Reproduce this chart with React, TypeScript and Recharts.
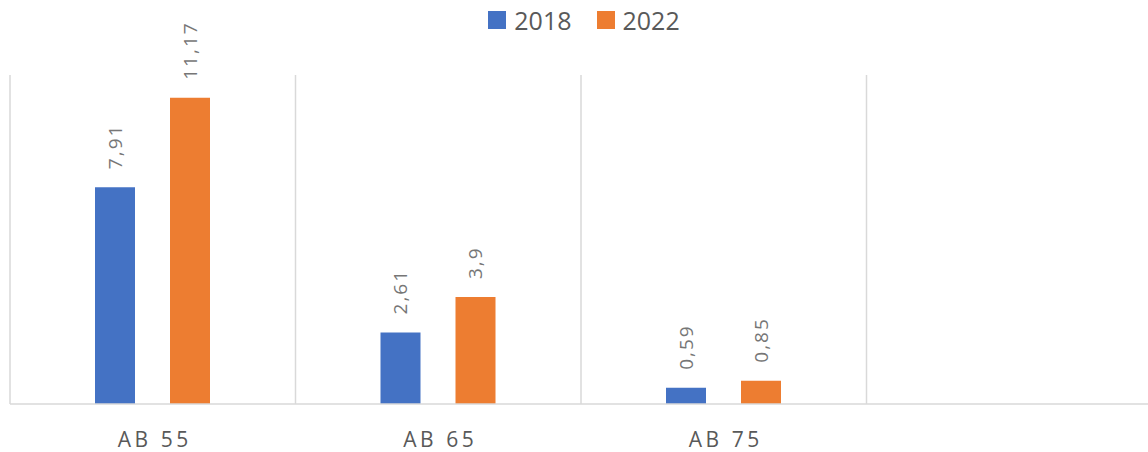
import React from 'react';
import { BarChart, Bar, XAxis, YAxis, CartesianGrid, Legend, LabelList } from 'recharts';

const categories = ['AB 55', 'AB 65', 'AB 75', ''];
const values2018 = [7.91, 2.61, 0.59, null];
const values2022 = [11.17, 3.9, 0.85, null];
const seriesNames = ['2018', '2022'];
const seriesColors = ['#4472C4', '#ED7D31'];
const yTicks = [0, 12];

const data = categories.map((name, i) => ({
  name,
  [seriesNames[0]]: values2018[i],
  [seriesNames[1]]: values2022[i],
}));

const fmt = (v: number) => String(v).replace('.', ',');

const BarLabel = (props: any) => {
  const { x, y, width, value } = props;
  if (value == null) return null;
  const cx = x + width / 2 + 7;
  const cy = y - 18;
  return (
    <text
      x={cx}
      y={cy}
      transform={`rotate(-90 ${cx} ${cy})`}
      textAnchor="start"
      fontSize={19}
      letterSpacing={2}
      fill="#767676"
      fontFamily="'Open Sans', sans-serif"
    >
      {fmt(value)}
    </text>
  );
};

const CategoryTick = (props: any) => {
  const { x, y, payload } = props;
  return (
    <text
      x={x + 2}
      y={y}
      dy={35}
      textAnchor="middle"
      fontSize={21}
      letterSpacing={3.5}
      fill="#595959"
      fontFamily="'Open Sans', sans-serif"
    >
      {payload.value}
    </text>
  );
};

const LegendContent = (props: any) => {
  const { payload } = props;
  return (
    <div
      style={{
        height: 40,
        display: 'flex',
        justifyContent: 'center',
        alignItems: 'center',
        paddingLeft: 20,
        fontFamily: "'Open Sans', sans-serif",
      }}
    >
      {(payload || []).map((p: any, i: number) => (
        <div key={i} style={{ display: 'flex', alignItems: 'center', marginRight: i === 0 ? 25 : 0 }}>
          <span style={{ width: 18, height: 18, background: p.color, marginRight: 8, display: 'inline-block' }} />
          <span style={{ fontSize: 25, color: '#595959', lineHeight: '25px' }}>{p.value}</span>
        </div>
      ))}
    </div>
  );
};

export default function App() {
  return (
    <div style={{ position: 'absolute', left: 0, top: 0, width: 1148, height: 452, overflow: 'hidden', background: '#fff' }}>
      <BarChart
        width={1160}
        height={452}
        data={data}
        margin={{ top: 35, right: 8, bottom: 18, left: 10 }}
        barGap={35}
        barSize={40}
      >
        <CartesianGrid
          horizontal={false}
          stroke="#d9d9d9"
          strokeWidth={1.5}
          verticalCoordinatesGenerator={({ offset }: any) =>
            categories.map((_, i) => offset.left + (i * offset.width) / categories.length)
          }
        />
        <XAxis
          dataKey="name"
          height={30}
          tickLine={false}
          axisLine={{ stroke: '#d9d9d9', strokeWidth: 1.5 }}
          tick={<CategoryTick />}
          interval={0}
        />
        <YAxis hide domain={[yTicks[0], yTicks[1]]} ticks={yTicks} />
        <Legend verticalAlign="top" wrapperStyle={{ top: 0, left: 0, width: 1148 }} content={<LegendContent />} />
        {seriesNames.map((s, i) => (
          <Bar key={s} dataKey={s} fill={seriesColors[i]} isAnimationActive={false}>
            <LabelList dataKey={s} content={<BarLabel />} />
          </Bar>
        ))}
      </BarChart>
    </div>
  );
}
